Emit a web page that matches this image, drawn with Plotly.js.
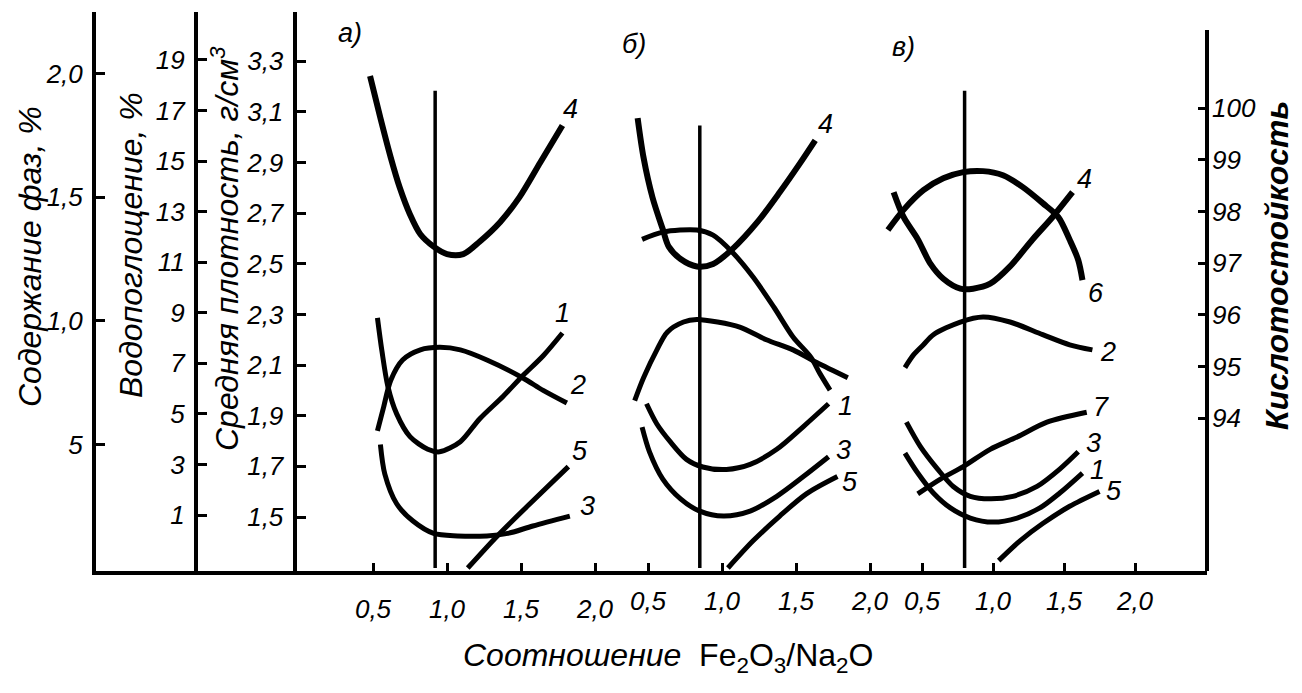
<!DOCTYPE html>
<html><head><meta charset="utf-8">
<script src="https://cdn.plot.ly/plotly-3.0.1.min.js"></script>
<style>html,body{margin:0;padding:0;background:#fff;} #chart{width:1302px;height:693px;}</style>
</head><body><div id="chart"></div>
<script>
// ---- tick labels ----
const xTickVals = [0.5, 1.0, 1.5, 2.0];
const xTickText = ['0,5', '1,0', '1,5', '2,0'];
const phaseTickVals = [0.5, 1.0, 1.5, 2.0];
const phaseTickText = ['5', '1,0', '1,5', '2,0'];
const waterTickVals = [1, 3, 5, 7, 9, 11, 13, 15, 17, 19];
const waterTickText = ['1', '3', '5', '7', '9', '11', '13', '15', '17', '19'];
const densityTickVals = [1.5, 1.7, 1.9, 2.1, 2.3, 2.5, 2.7, 2.9, 3.1, 3.3];
const densityTickText = ['1,5', '1,7', '1,9', '2,1', '2,3', '2,5', '2,7', '2,9', '3,1', '3,3'];
const acidTickVals = [94, 95, 96, 97, 98, 99, 100];
const acidTickText = ['94', '95', '96', '97', '98', '99', '100'];

// ---- vertical reference lines in each panel (ratio value, top in phase-content units) ----
const refLineX = [0.92, 0.85, 0.80];
const refLineTop = [1.93, 1.79, 1.93];

// ---- Panel а) ----
const a4x = [0.48, 0.55, 0.62, 0.68, 0.75, 0.82, 0.91, 1.00, 1.11, 1.22, 1.36, 1.49, 1.63, 1.78];
const a4y = [1.99, 1.82, 1.66, 1.54, 1.43, 1.35, 1.30, 1.27, 1.27, 1.32, 1.40, 1.50, 1.64, 1.79];
const a1x = [0.53, 0.56, 0.60, 0.66, 0.75, 0.87, 0.95, 1.09, 1.22, 1.38, 1.51, 1.65, 1.78];
const a1y = [8.8, 7.5, 6.1, 5.0, 4.1, 3.6, 3.5, 3.9, 4.8, 5.7, 6.5, 7.3, 8.2];
const a2x = [0.53, 0.57, 0.62, 0.70, 0.82, 0.95, 1.09, 1.27, 1.51, 1.65, 1.81];
const a2y = [1.84, 1.93, 2.04, 2.12, 2.16, 2.17, 2.16, 2.12, 2.05, 2.00, 1.95];
const a3x = [0.55, 0.58, 0.66, 0.77, 0.91, 1.07, 1.27, 1.41, 1.58, 1.83];
const a3y = [0.50, 0.38, 0.26, 0.19, 0.14, 0.13, 0.13, 0.14, 0.17, 0.21];
const a5x = [1.14, 1.34, 1.56, 1.82];
const a5y = [0.00, 0.13, 0.26, 0.41];

// ---- Panel б) ----
const b4x = [0.43, 0.47, 0.53, 0.60, 0.64, 0.72, 0.83, 0.94, 1.07, 1.24, 1.39, 1.53, 1.63];
const b4y = [1.82, 1.66, 1.50, 1.37, 1.30, 1.25, 1.22, 1.23, 1.29, 1.40, 1.52, 1.64, 1.73];
const b6x = [0.46, 0.60, 0.83, 0.94, 1.07, 1.21, 1.35, 1.48, 1.60, 1.66, 1.73];
const b6y = [97.46, 97.60, 97.64, 97.54, 97.21, 96.73, 96.15, 95.57, 95.18, 94.87, 94.54];
const b2x = [0.41, 0.47, 0.56, 0.63, 0.74, 0.83, 0.97, 1.12, 1.30, 1.48, 1.64, 1.85];
const b2y = [1.96, 2.05, 2.16, 2.23, 2.27, 2.28, 2.27, 2.25, 2.20, 2.16, 2.11, 2.05];
const b1x = [0.49, 0.56, 0.65, 0.76, 0.87, 1.03, 1.19, 1.37, 1.55, 1.72];
const b1y = [5.4, 4.6, 3.9, 3.2, 2.9, 2.8, 3.0, 3.6, 4.5, 5.4];
const b3x = [0.46, 0.51, 0.60, 0.72, 0.85, 1.01, 1.19, 1.37, 1.55, 1.72];
const b3y = [0.57, 0.47, 0.36, 0.28, 0.23, 0.21, 0.23, 0.29, 0.37, 0.45];
const b5x = [1.04, 1.21, 1.39, 1.57, 1.78];
const b5y = [0.00, 0.11, 0.21, 0.30, 0.37];

// ---- Panel в) ----
const c6x = [0.26, 0.37, 0.51, 0.65, 0.79, 0.93, 1.07, 1.21, 1.35, 1.46, 1.54, 1.60, 1.63];
const c6y = [97.64, 98.03, 98.41, 98.64, 98.76, 98.78, 98.70, 98.47, 98.16, 97.89, 97.45, 97.06, 96.67];
const c4x = [0.30, 0.37, 0.47, 0.56, 0.65, 0.77, 0.86, 0.98, 1.12, 1.28, 1.42, 1.56];
const c4y = [1.52, 1.42, 1.33, 1.23, 1.17, 1.13, 1.13, 1.15, 1.22, 1.33, 1.42, 1.52];
const c2x = [0.38, 0.44, 0.51, 0.58, 0.77, 0.93, 1.12, 1.35, 1.54, 1.70];
const c2y = [2.09, 2.14, 2.18, 2.22, 2.27, 2.29, 2.27, 2.22, 2.18, 2.16];
const c7x = [0.47, 0.63, 0.79, 0.98, 1.17, 1.38, 1.66];
const c7y = [0.30, 0.36, 0.41, 0.48, 0.53, 0.59, 0.63];
const c3x = [0.39, 0.49, 0.61, 0.72, 0.84, 0.98, 1.14, 1.31, 1.47, 1.60];
const c3y = [0.59, 0.49, 0.40, 0.33, 0.29, 0.28, 0.29, 0.33, 0.40, 0.47];
const c1x = [0.38, 0.47, 0.58, 0.70, 0.84, 1.00, 1.17, 1.33, 1.47, 1.63];
const c1y = [3.45, 2.66, 1.87, 1.28, 0.88, 0.72, 0.88, 1.28, 1.87, 2.66];
const c5x = [1.04, 1.19, 1.35, 1.54, 1.75];
const c5y = [0.03, 0.11, 0.18, 0.25, 0.31];

// ---- curve definitions: axes, label and label offset (styling only) ----
const curves = [
  {x: a4x, y: a4y, xa: 'x',  ya: 'y',  label: '4', dx: 8,  dy: 16, w: 6},
  {x: a1x, y: a1y, xa: 'x',  ya: 'y2', label: '1', dx: 0,  dy: 20, w: 5},
  {x: a2x, y: a2y, xa: 'x',  ya: 'y3', label: '2', dx: 11, dy: 18, w: 5},
  {x: a3x, y: a3y, xa: 'x',  ya: 'y',  label: '3', dx: 18, dy: 10, w: 5},
  {x: a5x, y: a5y, xa: 'x',  ya: 'y',  label: '5', dx: 12, dy: 16, w: 5},
  {x: b4x, y: b4y, xa: 'x2', ya: 'y',  label: '4', dx: 10, dy: 16, w: 6},
  {x: b6x, y: b6y, xa: 'x2', ya: 'y4', label: '',  dx: 0,  dy: 0,  w: 5},
  {x: b2x, y: b2y, xa: 'x2', ya: 'y3', label: '',  dx: 0,  dy: 0,  w: 5},
  {x: b1x, y: b1y, xa: 'x2', ya: 'y2', label: '1', dx: 17, dy: -2, w: 5},
  {x: b3x, y: b3y, xa: 'x2', ya: 'y',  label: '3', dx: 15, dy: 7,  w: 5},
  {x: b5x, y: b5y, xa: 'x2', ya: 'y',  label: '5', dx: 13, dy: -5, w: 5},
  {x: c6x, y: c6y, xa: 'x3', ya: 'y4', label: '6', dx: 14, dy: -13, w: 6},
  {x: c4x, y: c4y, xa: 'x3', ya: 'y',  label: '4', dx: 12, dy: 13, w: 6},
  {x: c2x, y: c2y, xa: 'x3', ya: 'y3', label: '2', dx: 16, dy: -2, w: 5},
  {x: c7x, y: c7y, xa: 'x3', ya: 'y',  label: '7', dx: 14, dy: 5,  w: 5},
  {x: c3x, y: c3y, xa: 'x3', ya: 'y',  label: '3', dx: 15, dy: 9,  w: 5},
  {x: c1x, y: c1y, xa: 'x3', ya: 'y2', label: '1', dx: 15, dy: 3,  w: 5},
  {x: c5x, y: c5y, xa: 'x3', ya: 'y',  label: '5', dx: 14, dy: 0,  w: 5}
];

const FONT = 'Liberation Sans, Arial, Helvetica, sans-serif';
const tickFont = {family: FONT, size: 26, color: '#000', style: 'italic'};

const traces = curves.map(c => ({
  type: 'scatter', mode: 'lines', x: c.x, y: c.y, xaxis: c.xa, yaxis: c.ya,
  line: {color: '#000', width: c.w, shape: 'spline', smoothing: 0.85},
  hoverinfo: 'skip', showlegend: false
}));

const labelAnn = curves.filter(c => c.label).map(c => ({
  x: c.x[c.x.length - 1], y: c.y[c.y.length - 1], xref: c.xa, yref: c.ya,
  xshift: c.dx, yshift: c.dy, text: c.label, showarrow: false,
  xanchor: 'center', yanchor: 'middle',
  font: {family: FONT, size: 27, color: '#000', style: 'italic'}
}));

const otherAnn = [
  {text: 'а)', x: 0.2286, y: 0.9624},
  {text: 'б)', x: 0.4842, y: 0.9428},
  {text: 'в)', x: 0.7264, y: 0.9374}
].map(a => Object.assign({xref: 'paper', yref: 'paper', showarrow: false,
  xanchor: 'center', yanchor: 'middle',
  font: {family: FONT, size: 27, color: '#000', style: 'italic'}}, a));

const titleAnn = [
  {text: 'Содержание фаз, %', x: -0.0594, y: 0.5617, textangle: -90, font: {family: FONT, size: 32, color: '#000', style: 'italic'}},
  {text: 'Водопоглощение, %', x: 0.0315, y: 0.5832, textangle: -90, font: {family: FONT, size: 32, color: '#000', style: 'italic'}},
  {text: 'Средняя плотность, г/см<sup>3</sup>', x: 0.1161, y: 0.5778, textangle: -90, font: {family: FONT, size: 32, color: '#000', style: 'italic'}},
  {text: '<b>Кислотостойкость</b>', x: 1.063, y: 0.5474, textangle: -90, font: {family: FONT, size: 32, color: '#000', style: 'italic'}},
  {text: '<i>Соотношение</i>  Fe<sub>2</sub>O<sub>3</sub>/Na<sub>2</sub>O', x: 0.5149, y: -0.1556, font: {family: FONT, size: 32, color: '#000', style: 'normal'}}
].map(a => Object.assign({xref: 'paper', yref: 'paper', showarrow: false, xanchor: 'center', yanchor: 'middle'}, a));

const shapes = refLineX.map((v, i) => ({
  type: 'line', xref: ['x', 'x2', 'x3'][i], yref: 'y', x0: v, x1: v, y0: 0, y1: refLineTop[i],
  line: {color: '#000', width: 3.5}
}));
// right axis line (shorter than plot height)
shapes.push({type: 'line', xref: 'paper', yref: 'paper', x0: 1, x1: 1, y0: 0, y1: 0.9678, line: {color: '#000', width: 4}});

const xBase = {
  tickvals: xTickVals, ticktext: xTickText, ticks: 'inside', ticklen: 8, tickwidth: 3, tickcolor: '#000',
  showgrid: false, zeroline: false, tickfont: tickFont, ticklabelstandoff: 12, fixedrange: true
};
const yBase = {
  ticks: 'inside', ticklen: 9, tickwidth: 3, tickcolor: '#000', showline: true, linewidth: 4, linecolor: '#000',
  showgrid: false, zeroline: false, tickfont: tickFont, ticklabelstandoff: 4, fixedrange: true
};

const layout = {
  width: 1302, height: 693,
  margin: {l: 96, r: 95, t: 12, b: 122},
  paper_bgcolor: '#fff', plot_bgcolor: 'rgba(0,0,0,0)',
  showlegend: false,
  xaxis: Object.assign({}, xBase, {range: [-1.3716, 6.1351], showline: true, linewidth: 4, linecolor: '#000'}),
  xaxis2: Object.assign({}, xBase, {range: [-3.2297, 4.277], overlaying: 'x', showline: false}),
  xaxis3: Object.assign({}, xBase, {range: [-5.3169, 2.507], overlaying: 'x', showline: false}),
  yaxis: Object.assign({}, yBase, {range: [-0.012, 2.249], tickvals: phaseTickVals, ticktext: phaseTickText}),
  yaxis2: Object.assign({}, yBase, {range: [-1.215, 20.897], tickvals: waterTickVals, ticktext: waterTickText,
    overlaying: 'y', anchor: 'free', position: 0.09, side: 'left'}),
  yaxis3: Object.assign({}, yBase, {range: [1.287, 3.494], tickvals: densityTickVals, ticktext: densityTickText,
    overlaying: 'y', anchor: 'free', position: 0.1787, side: 'left'}),
  yaxis4: Object.assign({}, yBase, {range: [91.04, 101.86], tickvals: acidTickVals, ticktext: acidTickText,
    overlaying: 'y', anchor: 'x', side: 'right', showline: false}),
  shapes: shapes,
  annotations: labelAnn.concat(otherAnn, titleAnn)
};

Plotly.newPlot('chart', traces, layout, {displayModeBar: false, staticPlot: true});
</script>
</body></html>
